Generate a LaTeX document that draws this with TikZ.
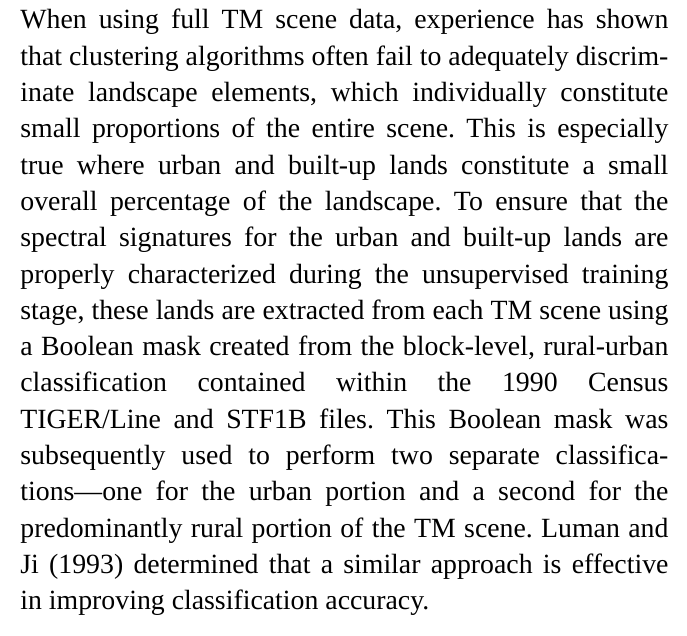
\documentclass[tikz,border=0pt]{standalone}
\usepackage{fontspec}
\setmainfont{Liberation Serif}
\usepackage{pgf,tikz}

\begin{document}
\begin{tikzpicture}
			\tikzstyle{textblock}=[anchor=north west,inner sep=0pt,text width=324pt,
				align=justify,font={\fontsize{13.9}{18.15}\selectfont\frenchspacing}]
			\useasboundingbox[fill=white] (0pt,0pt) rectangle (343.5pt,-318pt);
			\node[textblock] (para) at (10pt,-4.5pt) {\tolerance=10000\hbadness=10000
				When using full TM scene data, experience has shown\linebreak
				that clustering algorithms often fail to adequately discrim-\linebreak
				inate landscape elements, which individually constitute\linebreak
				small proportions of the entire scene. This is especially\linebreak
				true where urban and built-up lands constitute a small\linebreak
				overall percentage of the landscape. To ensure that the\linebreak
				spectral signatures for the urban and built-up lands are\linebreak
				properly characterized during the unsupervised training\linebreak
				stage, these lands are extracted from each TM scene using\linebreak
				a Boolean mask created from the block-level, rural-urban\linebreak
				classification contained within the 1990 Census\linebreak
				TIGER/Line and STF1B files. This Boolean mask was\linebreak
				subsequently used to perform two separate classifica-\linebreak
				tions---one for the urban portion and a second for the\linebreak
				predominantly rural portion of the TM scene. Luman and\linebreak
				Ji (1993) determined that a similar approach is effective\linebreak
				in improving classification accuracy.
			};
		\end{tikzpicture}
\end{document}
